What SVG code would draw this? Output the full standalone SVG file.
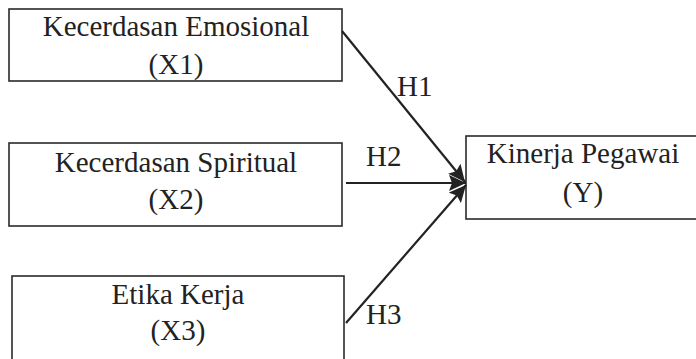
<svg xmlns="http://www.w3.org/2000/svg" width="696" height="359" viewBox="0 0 696 359">
<style>
.box{fill:#fff;stroke:#2a2a2a;stroke-width:1.6}
.t{font-family:"Liberation Serif","Times New Roman",serif;font-size:29px;fill:#222;text-anchor:middle}
.l{font-family:"Liberation Serif","Times New Roman",serif;font-size:29px;fill:#222}
.c{stroke:#222;stroke-width:2.2;fill:none;marker-end:url(#ah)}
</style>
<defs>
<marker id="ah" markerUnits="userSpaceOnUse" markerWidth="18" markerHeight="16" refX="17" refY="8" orient="auto">
<path d="M0,0 L17,8 L0,16 L3,8 Z" fill="#222"/>
</marker>
</defs>
<rect width="696" height="359" fill="#fff"/>
<g id="x1">
<rect class="box" x="9" y="9" width="333" height="72"/>
<text class="t" x="176" y="36">Kecerdasan Emosional</text>
<text class="t" x="176" y="74">(X1)</text>
</g>
<g id="x2">
<rect class="box" x="9" y="143" width="333" height="83"/>
<text class="t" x="176" y="172">Kecerdasan Spiritual</text>
<text class="t" x="176" y="209">(X2)</text>
</g>
<g id="x3">
<rect class="box" x="12" y="276" width="332" height="100"/>
<text class="t" x="178" y="304">Etika Kerja</text>
<text class="t" x="178" y="340">(X3)</text>
</g>
<g id="y">
<rect class="box" x="466" y="136" width="240" height="83"/>
<text class="t" x="583" y="163">Kinerja Pegawai</text>
<text class="t" x="583" y="202">(Y)</text>
</g>
<g id="connectors">
<line class="c" x1="342" y1="31" x2="465" y2="182"/>
<line class="c" x1="346" y1="183" x2="466" y2="183"/>
<line class="c" x1="346" y1="323" x2="466" y2="185"/>
<text class="l" x="397" y="96">H1</text>
<text class="l" x="366" y="166">H2</text>
<text class="l" x="366" y="324">H3</text>
</g>
</svg>
